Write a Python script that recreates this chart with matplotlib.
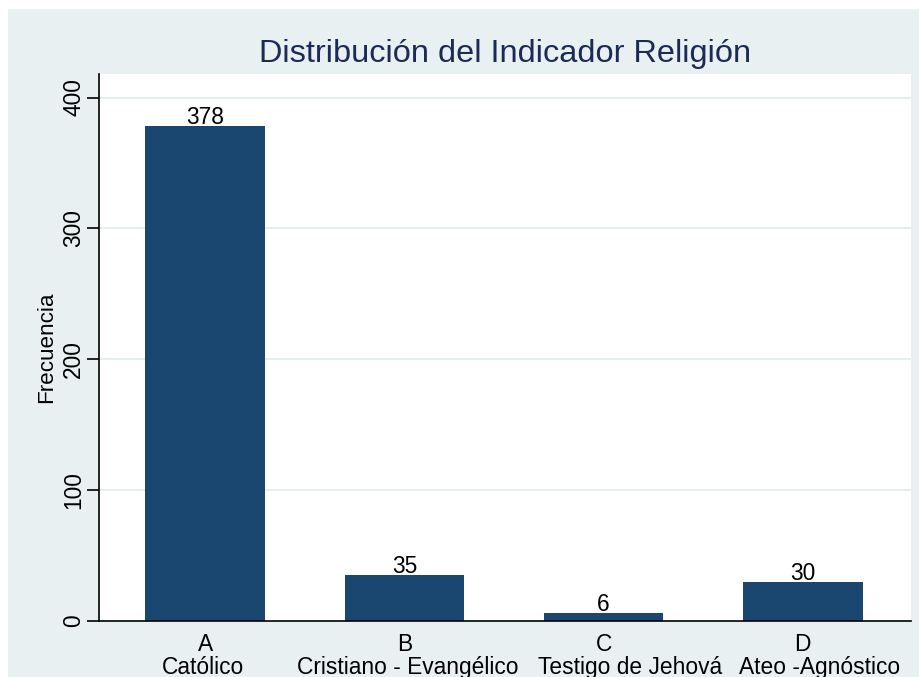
import numpy as np
import matplotlib
matplotlib.use("Agg")
import matplotlib.pyplot as plt
from matplotlib.patches import Rectangle

# data
letters = ["A", "B", "C", "D"]
religions = ["Católico", "Cristiano - Evangélico", "Testigo de Jehová", "Ateo -Agnóstico"]
freq = [378, 35, 6, 30]
yticks = [0, 100, 200, 300, 400]
# the second label line is not exactly centred in the original (pixels)
name_shift = [-2, 3.5, 26, 17]

bg = "#e9f0f2"
bar_col = "#1a476f"
title_col = "#1c2b56"
fs = 16.4

plt.rcParams["font.family"] = ["Liberation Sans", "DejaVu Sans"]

W, H = 920, 677
fig = plt.figure(figsize=(W / 100, H / 100), dpi=100, facecolor="white")
# light graph region, slightly inset from top/left like the original crop
fig.patches.append(Rectangle((8 / W, 0), 1, 1 - 9 / H, transform=fig.transFigure,
                             facecolor=bg, edgecolor="none", zorder=-5))

ax = fig.add_axes([99 / W, (H - 621) / H, (911 - 99) / W, (621 - 74) / H])
ax.set_facecolor("white")

x = np.arange(len(freq))
bars = ax.bar(x, freq, width=0.6, color=bar_col, zorder=3)
ax.bar_label(bars, labels=[str(v) for v in freq], padding=-2, fontsize=fs, color="black")

ax.set_xlim(-0.533, 3.543)
ax.set_ylim(0, 418)

ax.set_yticks(yticks)
ax.set_yticklabels([str(t) for t in yticks], rotation=90, va="center", fontsize=fs)
ax.tick_params(axis="y", length=9, width=1.2, pad=1, colors="black")
ax.set_xticks(x)
ax.set_xticklabels(letters, fontsize=fs)
ax.tick_params(axis="x", length=0, pad=8.8)

for i, (name, dx) in enumerate(zip(religions, name_shift)):
    ax.annotate(name, xy=(i, 0), xycoords=("data", "axes fraction"),
                xytext=(dx, -53), textcoords="offset pixels",
                ha="center", va="baseline", fontsize=fs, annotation_clip=False)

for t in yticks[1:]:
    ax.axhline(t, color="#e6eef0", lw=1.6, zorder=1)

for s in ["top", "right"]:
    ax.spines[s].set_visible(False)
ax.spines["left"].set_linewidth(1.2)
ax.spines["bottom"].set_linewidth(1.2)
ax.spines["bottom"].set_zorder(4)

fig.text(46.5 / W, 1 - 347.5 / H, "Frecuencia", rotation=90, ha="center", va="center", fontsize=16.2)
fig.text(505 / W, 1 - 62 / H, "Distribución del Indicador Religión", ha="center", va="baseline",
         fontsize=23.4, color=title_col)

fig.savefig("out.png", dpi=100, facecolor="white")
